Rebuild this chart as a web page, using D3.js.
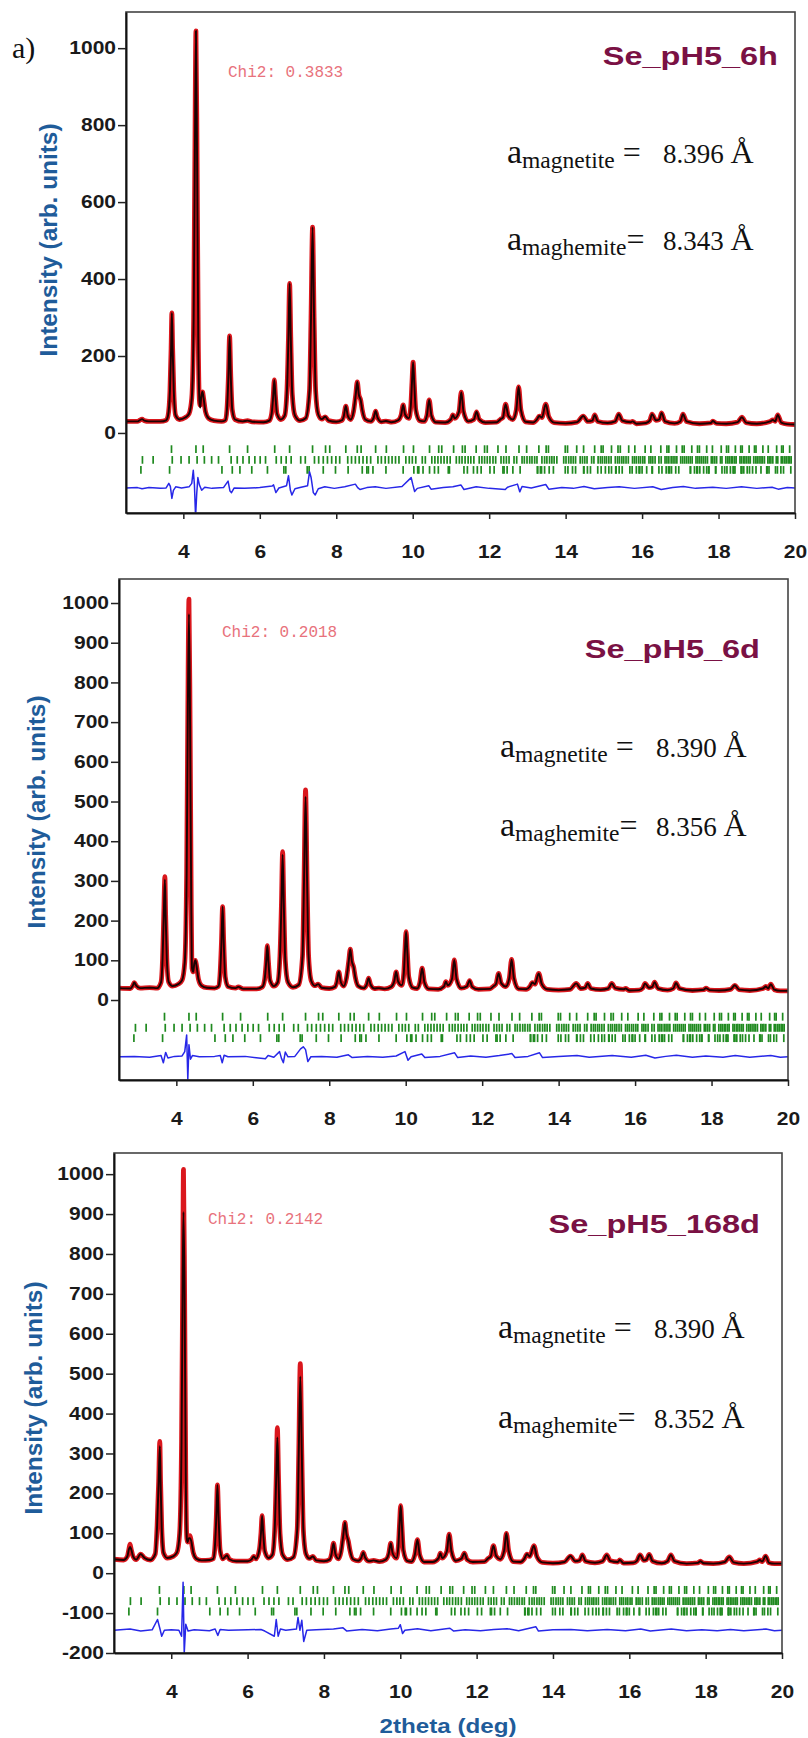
<!DOCTYPE html>
<html>
<head>
<meta charset="utf-8">
<script src="https://cdn.jsdelivr.net/npm/d3@7"></script>
<style>
  body { margin: 0; background: #fff; }
  svg { display: block; }
</style>
</head>
<body>
<svg id="fig" width="808" height="1738"></svg>
<script>
// ---------------------------------------------------------------
// Rietveld refinement plots of three Se_pH5 samples (synchrotron XRD)
// ---------------------------------------------------------------

const samples    = ["Se_pH5_6h", "Se_pH5_6d", "Se_pH5_168d"];
const chi2       = ["0.3833", "0.2018", "0.2142"];
const aMagnetite = ["8.396", "8.390", "8.390"];
const aMaghemite = ["8.343", "8.356", "8.352"];

const xDomain = [2.5, 20];
const xTicks = [4, 6, 8, 10, 12, 14, 16, 18, 20];
const yTicks6h   = [0, 200, 400, 600, 800, 1000];
const yTicks6d   = [0, 100, 200, 300, 400, 500, 600, 700, 800, 900, 1000];
const yTicks168d = [-200, -100, 0, 100, 200, 300, 400, 500, 600, 700, 800, 900, 1000];

// Observed intensity profiles: [2theta (deg), intensity]
const obs6h = [[2.50,30],[2.80,30],[2.86,33],[2.92,36],[2.98,32],[3.10,30],[3.40,30],[3.55,33],
  [3.60,45],[3.65,110],[3.68,220],[3.70,312],[3.72,220],[3.75,110],[3.80,45],[3.90,35],[4.05,40],[4.15,50],
  [4.22,90],[4.27,300],[4.30,700],[4.33,1045],[4.36,700],[4.39,250],[4.42,85],[4.44,72],
  [4.47,95],[4.50,107],[4.53,90],[4.58,55],[4.66,38],[4.80,32],[5.00,30],[5.10,33],
  [5.14,60],[5.18,150],[5.21,252],[5.24,150],[5.28,60],[5.35,35],[5.55,30],[5.68,32],[5.80,29],[6.10,28],[6.25,32],
  [6.31,50],[6.35,95],[6.38,138],[6.41,95],[6.45,50],[6.55,35],[6.65,45],
  [6.71,110],[6.75,250],[6.78,389],[6.81,250],[6.85,100],[6.92,45],[7.05,32],[7.20,38],
  [7.30,110],[7.34,300],[7.38,535],[7.42,300],[7.46,110],[7.53,48],[7.62,36],[7.71,42],[7.80,32],[8.00,29],[8.15,33],
  [8.20,45],[8.25,70],[8.30,45],[8.38,35],[8.45,55],
  [8.51,100],[8.55,133],[8.59,100],[8.64,85],[8.68,60],[8.76,35],[8.90,30],
  [8.98,40],[9.03,57],[9.08,40],[9.18,29],[9.30,31],[9.45,28],[9.62,33],
  [9.70,48],[9.75,73],[9.80,48],[9.90,38],
  [9.95,70],[9.98,130],[10.01,184],[10.04,130],[10.08,60],[10.18,32],[10.30,30],
  [10.37,45],[10.43,86],[10.49,45],[10.60,28],[10.85,27],[11.00,35],[11.05,47],[11.10,38],
  [11.21,55],[11.27,106],[11.33,55],[11.45,30],[11.60,35],[11.67,55],[11.74,35],[11.90,27],[12.20,28],[12.30,36],[12.36,40],
  [12.43,75],[12.50,45],[12.62,35],
  [12.71,60],[12.77,120],[12.83,60],[12.95,29],[13.15,27],[13.25,35],[13.31,44],[13.38,40],
  [13.48,75],[13.56,42],[13.70,27],[14.00,25],[14.30,28],[14.46,44],[14.58,30],[14.70,32],[14.76,47],[14.84,30],
  [15.10,26],[15.30,30],[15.39,49],[15.48,32],[15.70,28],[15.75,30],[15.85,24],[16.10,26],[16.20,32],[16.26,49],
  [16.36,33],[16.45,35],[16.51,52],[16.60,30],[16.85,25],[17.00,30],[17.07,49],[17.16,30],[17.50,24],[17.80,26],
  [17.85,31],[17.95,25],[18.20,24],[18.50,28],[18.61,41],[18.72,27],[19.00,24],[19.35,30],[19.42,34],[19.48,30],
  [19.55,47],[19.64,27],[19.80,23],[20.00,22]];

const obs6d = [[2.50,30],[2.80,29],[2.86,36],[2.90,44],[2.95,36],[3.05,30],[3.30,31],[3.50,30],
  [3.60,45],[3.64,105],[3.67,210],[3.70,311],[3.72,215],[3.75,105],[3.80,45],[3.90,35],[4.05,40],[4.15,50],
  [4.22,95],[4.27,320],[4.30,720],[4.33,1010],[4.36,690],[4.39,240],[4.41,80],[4.44,71],
  [4.47,92],[4.50,100],[4.53,85],[4.58,52],[4.66,36],[4.80,31],[5.00,30],[5.10,34],
  [5.14,60],[5.18,145],[5.21,235],[5.24,145],[5.28,58],[5.35,34],[5.55,30],[5.62,33],[5.75,28],[6.10,28],[6.25,33],
  [6.31,52],[6.35,95],[6.38,137],[6.41,95],[6.45,50],[6.55,35],[6.65,44],
  [6.71,110],[6.75,245],[6.78,374],[6.81,245],[6.85,100],[6.92,45],[7.05,32],[7.20,38],
  [7.30,110],[7.34,300],[7.38,529],[7.42,300],[7.46,110],[7.53,48],[7.62,36],[7.71,40],[7.80,31],[8.00,29],[8.15,33],
  [8.20,46],[8.25,71],[8.30,46],[8.38,35],[8.45,55],
  [8.51,98],[8.55,128],[8.59,98],[8.64,82],[8.68,58],[8.76,35],[8.90,30],
  [8.98,39],[9.03,55],[9.08,39],[9.18,29],[9.30,30],[9.45,28],[9.62,33],
  [9.70,47],[9.75,71],[9.80,47],[9.90,37],
  [9.95,68],[9.98,125],[10.01,172],[10.04,125],[10.08,58],[10.18,31],[10.30,29],
  [10.37,44],[10.43,80],[10.49,44],[10.60,28],[10.85,27],[11.00,34],[11.05,46],[11.10,37],
  [11.21,53],[11.27,101],[11.33,53],[11.45,30],[11.60,34],[11.67,49],[11.74,33],[11.90,27],[12.20,28],[12.30,35],[12.36,40],
  [12.43,67],[12.50,42],[12.62,34],
  [12.71,55],[12.77,102],[12.83,55],[12.95,28],[13.15,27],[13.25,34],[13.31,44],[13.38,40],
  [13.48,67],[13.56,40],[13.70,27],[14.00,25],[14.30,27],[14.46,42],[14.58,29],[14.70,31],[14.76,42],[14.84,29],
  [15.10,26],[15.30,29],[15.39,42],[15.48,30],[15.70,27],[15.75,29],[15.85,24],[16.10,25],[16.20,30],[16.26,42],
  [16.36,31],[16.45,33],[16.51,45],[16.60,29],[16.85,25],[17.00,29],[17.07,43],[17.16,29],[17.50,24],[17.80,26],
  [17.85,30],[17.95,25],[18.20,24],[18.50,27],[18.61,37],[18.72,26],[19.00,24],[19.35,29],[19.42,34],[19.48,29],
  [19.55,40],[19.64,26],[19.80,23],[20.00,23]];

const obs168d = [[2.50,35],[2.75,33],[2.85,42],[2.89,60],[2.92,73],[2.95,60],[3.00,42],[3.08,34],[3.20,48],[3.30,38],[3.45,33],
  [3.58,48],[3.63,120],[3.67,230],[3.70,330],[3.72,230],[3.75,115],[3.80,50],[3.90,38],[4.05,42],[4.15,52],
  [4.22,100],[4.27,330],[4.30,740],[4.32,1012],[4.35,700],[4.38,250],[4.41,85],[4.43,78],
  [4.46,88],[4.49,94],[4.52,82],[4.58,50],[4.66,36],[4.80,32],[5.00,33],[5.10,36],
  [5.14,62],[5.18,140],[5.21,221],[5.24,140],[5.28,58],[5.35,36],[5.40,40],[5.46,45],[5.52,35],[5.70,30],[6.00,30],[6.10,34],
  [6.16,42],[6.22,36],[6.31,60],[6.35,100],[6.38,144],[6.41,100],[6.45,55],[6.55,38],[6.65,46],
  [6.71,110],[6.75,240],[6.78,365],[6.81,240],[6.85,100],[6.92,46],[7.05,34],[7.20,40],
  [7.30,110],[7.34,300],[7.38,525],[7.42,300],[7.46,110],[7.53,48],[7.62,37],[7.71,42],[7.80,32],[8.00,30],[8.15,34],
  [8.20,48],[8.25,75],[8.30,48],[8.38,36],[8.45,55],
  [8.51,98],[8.55,127],[8.59,98],[8.64,80],[8.68,58],[8.76,35],[8.90,31],
  [8.98,39],[9.03,52],[9.08,39],[9.18,30],[9.30,32],[9.45,29],[9.62,34],
  [9.70,50],[9.75,75],[9.80,50],[9.90,38],
  [9.95,68],[9.98,123],[10.01,169],[10.04,123],[10.08,58],[10.18,31],[10.30,29],
  [10.38,46],[10.45,84],[10.51,46],[10.62,28],[10.85,28],[11.00,37],[11.05,50],[11.10,38],
  [11.22,55],[11.28,98],[11.34,55],[11.45,31],[11.60,36],[11.68,50],[11.75,34],[11.90,28],[12.20,29],[12.30,37],[12.37,42],
  [12.44,69],[12.51,43],[12.62,35],
  [12.72,56],[12.78,100],[12.84,56],[12.96,29],[13.15,28],[13.25,36],[13.32,48],[13.39,42],
  [13.50,69],[13.58,41],[13.72,27],[14.00,25],[14.30,28],[14.46,43],[14.58,30],[14.70,32],[14.77,46],[14.85,30],
  [15.10,26],[15.30,30],[15.41,46],[15.50,31],[15.70,28],[15.75,33],[15.85,25],[16.10,26],[16.20,31],[16.28,46],
  [16.38,32],[16.45,34],[16.52,47],[16.61,30],[16.85,25],[17.00,30],[17.09,46],[17.18,30],[17.50,24],[17.80,26],
  [17.86,30],[17.95,25],[18.20,24],[18.50,28],[18.62,41],[18.73,27],[19.00,24],[19.35,29],[19.42,33],[19.48,29],
  [19.57,43],[19.66,26],[19.80,24],[20.00,24]];

// Calculated profile: equal to the observed one except at these points
const calcTop6h   = [[4.44,66]];
const calcTop6d   = [[3.70,303],[4.33,972],[6.78,366],[7.38,512]];
const calcTop168d = [[2.92,66],[3.70,318],[4.32,905],[4.49,88],[6.78,340],[7.38,493]];

// Difference (Yobs - Ycalc): [2theta, residual]
const diff6h = [[2.50,0],[2.80,1],[2.92,-2],[3.10,1],[3.40,-1],[3.55,0],[3.62,12],[3.66,4],[3.70,-27],[3.74,-6],[3.80,3],
  [3.95,0],[4.15,3],[4.22,12],[4.26,46],[4.29,8],[4.32,-75],[4.35,-15],[4.38,27],[4.42,8],[4.48,-6],[4.56,2],[4.75,-1],
  [5.05,1],[5.17,18],[5.22,-8],[5.26,-12],[5.33,0],[5.60,-1],[6.00,1],[6.32,5],[6.36,8],[6.42,-12],[6.50,0],[6.70,6],
  [6.75,32],[6.80,-6],[6.84,-18],[6.92,-2],[7.05,1],[7.25,6],[7.30,42],[7.34,28],[7.40,-12],[7.45,-18],[7.53,-2],[7.70,3],
  [7.95,-1],[8.22,3],[8.50,10],[8.56,1],[8.62,-4],[8.80,1],[9.02,3],[9.30,-1],[9.72,4],[9.96,27],[10.00,10],[10.05,-9],
  [10.12,-1],[10.42,6],[10.48,-3],[10.80,1],[11.05,3],[11.26,8],[11.34,-4],[11.66,3],[12.00,-1],[12.42,-4],[12.48,2],
  [12.74,10],[12.80,-10],[12.86,4],[13.10,0],[13.48,9],[13.56,-3],[13.90,1],[14.20,-1],[14.48,4],[14.75,-2],[15.10,1],
  [15.40,3],[15.80,-1],[16.28,3],[16.50,-4],[16.80,1],[17.08,4],[17.40,-1],[17.85,2],[18.20,-1],[18.60,3],[19.00,-1],
  [19.40,2],[19.56,-3],[19.80,1],[20.00,0]];

const diff6d = [[2.50,0],[2.90,1],[3.30,-1],[3.60,3],[3.66,-15],[3.72,11],[3.78,-3],[3.95,1],[4.15,2],[4.22,13],[4.27,55],
  [4.30,-57],[4.33,30],[4.37,-6],[4.42,3],[4.60,0],[5.00,1],[5.15,3],[5.20,-15],[5.25,4],[5.35,0],[5.80,1],[6.33,-5],
  [6.40,3],[6.55,-1],[6.70,13],[6.75,-4],[6.80,-15],[6.85,12],[6.92,0],[7.10,1],[7.25,20],[7.32,25],[7.38,18],[7.44,-12],
  [7.52,0],[7.80,1],[8.20,-1],[8.50,5],[8.60,-2],[9.00,1],[9.40,-1],[9.75,2],[9.98,13],[10.06,-9],[10.14,0],[10.42,7],
  [10.50,-2],[10.90,1],[11.28,10],[11.36,-2],[11.70,2],[12.10,-1],[12.45,3],[12.78,8],[12.86,-2],[13.20,1],[13.50,10],
  [13.58,-2],[14.00,1],[14.48,3],[14.80,-1],[15.40,3],[15.90,-1],[16.28,4],[16.52,-3],[16.80,1],[17.08,4],[17.50,-1],
  [17.85,2],[18.30,-1],[18.62,3],[19.00,-1],[19.55,3],[19.80,-1],[20.00,0]];

const diff168d = [[2.50,0],[2.92,3],[3.20,-2],[3.50,1],[3.64,27],[3.70,5],[3.75,-15],[3.82,0],[4.00,1],[4.20,0],[4.27,-15],
  [4.31,120],[4.34,-58],[4.38,15],[4.44,-2],[4.60,1],[5.00,-1],[5.15,3],[5.22,-13],[5.28,2],[5.50,0],[6.00,1],[6.35,2],
  [6.45,-2],[6.70,-15],[6.75,27],[6.80,-15],[6.86,3],[7.00,0],[7.28,3],[7.32,32],[7.37,0],[7.42,25],[7.47,-28],[7.55,0],
  [7.80,1],[8.25,3],[8.50,6],[8.60,-2],[9.00,2],[9.40,-1],[9.75,3],[9.95,5],[10.00,14],[10.06,-8],[10.12,0],[10.45,4],
  [10.80,-1],[11.30,5],[11.40,-2],[11.70,1],[12.10,-1],[12.45,2],[12.80,4],[13.10,-1],[13.55,9],[13.62,-2],[14.00,1],
  [14.47,2],[14.90,-1],[15.42,2],[15.90,-1],[16.30,3],[16.55,-2],[17.10,3],[17.50,-1],[17.90,1],[18.30,-1],[18.65,2],
  [19.00,-1],[19.58,3],[19.80,-1],[20.00,0]];

const diffOffset = -143;

// Bragg reflection positions (2theta, deg) of the refined phases
const magnetiteRefl = [3.69,4.33,4.52,5.21,5.68,6.39,6.78,7.38,7.72,7.83,8.25,8.55,8.65,9.03,9.31,9.76,10.02,10.44,10.68,
  10.76,11.07,11.30,11.37,11.66,11.88,11.95,12.23,12.44,12.78,12.98,13.30,13.49,13.55,13.99,14.05,14.29,14.47,14.76,14.93,
  14.98,15.20,15.37,15.43,15.65,15.81,16.08,16.23,16.49,16.65,16.70,16.90,17.05,17.10,17.30,17.45,17.50,17.69,17.84,18.07,
  18.21,18.26,18.44,18.58,18.62,18.80,18.94,18.98,19.16,19.30,19.52,19.65,19.69,19.86];

const maghemiteRefl = [2.93,3.21,3.71,3.94,4.15,4.36,4.55,4.74,4.92,5.25,5.41,5.56,5.72,5.87,6.01,6.15,6.43,6.56,6.69,6.82,
  7.07,7.19,7.43,7.54,7.66,7.77,7.88,7.99,8.09,8.30,8.40,8.50,8.60,8.70,8.80,8.90,9.09,9.18,9.28,9.37,9.46,9.55,9.64,9.82,
  9.91,9.99,10.08,10.25,10.33,10.50,10.58,10.66,10.74,10.82,10.90,10.98,11.14,11.22,11.29,11.37,11.45,11.52,11.60,11.74,
  11.81,11.88,11.95,12.02,12.10,12.17,12.31,12.38,12.45,12.52,12.65,12.72,12.86,12.92,12.99,13.06,13.12,13.19,13.25,13.38,
  13.45,13.51,13.58,13.64,13.70,13.77,13.95,14.01,14.08,14.14,14.20,14.26,14.38,14.44,14.50,14.56,14.68,14.74,14.85,14.91,
  14.96,15.02,15.07,15.13,15.19,15.30,15.36,15.41,15.47,15.52,15.58,15.64,15.75,15.80,15.85,15.91,15.96,16.02,16.07,16.18,
  16.23,16.28,16.34,16.44,16.50,16.60,16.65,16.70,16.76,16.81,16.86,16.91,17.01,17.06,17.11,17.16,17.21,17.26,17.31,17.41,
  17.46,17.51,17.56,17.61,17.66,17.71,17.81,17.85,17.90,17.95,18.05,18.09,18.19,18.24,18.28,18.33,18.37,18.42,18.46,18.56,
  18.60,18.65,18.69,18.74,18.79,18.83,18.92,18.97,19.01,19.06,19.11,19.15,19.20,19.29,19.33,19.37,19.42,19.51,19.55,19.64,
  19.68,19.73,19.77,19.82,19.86,19.90];

const seleniumRefl = [2.89,3.64,5.01,5.28,5.48,5.79,6.20,6.63,6.68,7.24,7.29,7.66,7.98,8.31,8.68,8.80,8.84,8.96,9.30,9.75,
  10.03,10.13,10.16,10.27,10.44,10.57,10.67,10.93,10.96,11.34,11.43,11.59,11.69,11.79,12.02,12.13,12.36,12.39,12.47,12.62,
  12.81,13.26,13.27,13.34,13.37,13.45,13.57,13.68,13.99,14.06,14.18,14.26,14.47,14.48,14.57,14.65,14.84,14.93,15.04,15.13,
  15.20,15.31,15.32,15.40,15.48,15.68,15.74,15.85,15.92,15.94,16.00,16.12,16.26,16.27,16.44,16.52,16.63,16.69,16.72,16.77,
  16.88,16.96,17.26,17.27,17.37,17.43,17.45,17.51,17.61,17.69,17.74,17.75,17.92,17.93,18.09,18.16,18.22,18.31,18.38,18.40,
  18.43,18.59,18.60,18.61,18.66,18.75,18.81,18.89,18.98,19.11,19.26,19.27,19.32,19.49,19.54,19.63,19.70,19.89];

// ---------------------------------------------------------------
const SANS  = "'Liberation Sans', Arial, Helvetica, sans-serif";
const SERIF = "'Liberation Serif', 'Times New Roman', serif";
const MONO  = "'Liberation Mono', 'Courier New', monospace";
const BLUE_TITLE = "#1f5c9a";

const svg = d3.select("#fig");

// widen a text element horizontally by factor k
function stretch(sel, k) {
  sel.each(function () {
    const w = this.getComputedTextLength();
    d3.select(this).attr("textLength", w * k).attr("lengthAdjust", "spacingAndGlyphs");
  });
}

const panels = [
  { name: samples[0], chi: chi2[0], aMt: aMagnetite[0], aMh: aMaghemite[0],
    obs: obs6h, calcTop: calcTop6h, diff: diff6h, yTicks: yTicks6h,
    box: { l: 126, r: 795, t: 12, b: 513 }, yDom: [-208, 1094],
    yTitle: [57, 240], title: [778, 65], chiPos: [228, 77], ann: [507, 163, 250] },
  { name: samples[1], chi: chi2[1], aMt: aMagnetite[1], aMh: aMaghemite[1],
    obs: obs6d, calcTop: calcTop6d, diff: diff6d, yTicks: yTicks6d,
    box: { l: 119, r: 788, t: 579, b: 1080 }, yDom: [-201.5, 1060.5],
    yTitle: [45, 812], title: [760, 658], chiPos: [222, 637], ann: [500, 757, 836] },
  { name: samples[2], chi: chi2[2], aMt: aMagnetite[2], aMh: aMaghemite[2],
    obs: obs168d, calcTop: calcTop168d, diff: diff168d, yTicks: yTicks168d,
    box: { l: 114, r: 782, t: 1153, b: 1653 }, yDom: [-200, 1053],
    yTitle: [42, 1398], title: [760, 1233], chiPos: [208, 1224], ann: [498, 1338, 1428] }
];

const phases = [magnetiteRefl, maghemiteRefl, seleniumRefl];
const rowCenter = [-42, -70, -96];

panels.forEach((p, i) => {
  const g = svg.append("g");
  const x = d3.scaleLinear().domain(xDomain).range([p.box.l, p.box.r]);
  const y = d3.scaleLinear().domain(p.yDom).range([p.box.b, p.box.t]);

  const clipId = "plotClip" + i;
  svg.append("clipPath").attr("id", clipId).append("rect")
    .attr("x", p.box.l).attr("y", p.box.t)
    .attr("width", p.box.r - p.box.l).attr("height", p.box.b - p.box.t);
  const plot = g.append("g").attr("clip-path", `url(#${clipId})`);

  // Bragg position markers, one row per phase
  phases.forEach((refl, k) => {
    plot.append("g").selectAll("line").data(refl).join("line")
      .attr("x1", d => x(d)).attr("x2", d => x(d))
      .attr("y1", y(rowCenter[k] + 10)).attr("y2", y(rowCenter[k] - 10))
      .attr("stroke", "#1f8a1f").attr("stroke-width", 1.7);
  });

  // difference curve
  plot.append("path").datum(p.diff)
    .attr("d", d3.line().x(d => x(d[0])).y(d => y(diffOffset + d[1])))
    .attr("fill", "none").attr("stroke", "#2727e8").attr("stroke-width", 1.5)
    .attr("stroke-linejoin", "round");

  const profile = d3.line().x(d => x(d[0])).y(d => y(d[1])).curve(d3.curveMonotoneX);

  // observed
  plot.append("path").datum(p.obs)
    .attr("d", profile)
    .attr("fill", "none").attr("stroke", "#da171d").attr("stroke-width", 4.8)
    .attr("stroke-linejoin", "round").attr("stroke-linecap", "round");

  // calculated
  const top = new Map(p.calcTop);
  const calc = p.obs.map(([a, b]) => [a, top.has(a) ? top.get(a) : b]);
  plot.append("path").datum(calc)
    .attr("d", profile)
    .attr("fill", "none").attr("stroke", "#1c0202").attr("stroke-width", 1.9)
    .attr("stroke-linejoin", "round");

  // frame
  g.append("rect")
    .attr("x", p.box.l).attr("y", p.box.t)
    .attr("width", p.box.r - p.box.l).attr("height", p.box.b - p.box.t)
    .attr("fill", "none").attr("stroke", "#444").attr("stroke-width", 1.6);

  // axes
  const xa = g.append("g").attr("transform", `translate(0,${p.box.b})`)
    .call(d3.axisBottom(x).tickValues(xTicks).tickSize(6).tickSizeOuter(0)
      .tickPadding(27).tickFormat(d => String(d)));
  const ya = g.append("g").attr("transform", `translate(${p.box.l},0)`)
    .call(d3.axisLeft(y).tickValues(p.yTicks).tickSize(8).tickSizeOuter(0)
      .tickPadding(2).tickFormat(d => String(d)));
  [xa, ya].forEach(a => {
    a.select(".domain").attr("stroke", "#111").attr("stroke-width", 2);
    a.selectAll(".tick line").attr("stroke", "#222").attr("stroke-width", 1.5);
    const t = a.selectAll(".tick text")
      .attr("font-family", SANS).attr("font-weight", "bold")
      .attr("font-size", 17.5).attr("fill", "#1a1a1a");
    stretch(t, 1.2);
  });

  // y-axis title
  g.append("text")
    .attr("transform", `translate(${p.yTitle[0]},${p.yTitle[1]}) rotate(-90)`)
    .attr("text-anchor", "middle")
    .attr("font-family", SANS).attr("font-weight", "bold").attr("font-size", 23)
    .attr("fill", BLUE_TITLE)
    .attr("textLength", 233).attr("lengthAdjust", "spacingAndGlyphs")
    .text("Intensity (arb. units)");

  // sample name
  const ttl = g.append("text")
    .attr("x", p.title[0]).attr("y", p.title[1]).attr("text-anchor", "end")
    .attr("font-family", SANS).attr("font-weight", "bold").attr("font-size", 25)
    .attr("fill", "#7a1144").text(p.name);
  stretch(ttl, 1.3);

  // goodness of fit
  g.append("text")
    .attr("x", p.chiPos[0]).attr("y", p.chiPos[1])
    .attr("font-family", MONO).attr("font-size", 16).attr("fill", "#e8727c")
    .text("Chi2: " + p.chi);

  // lattice parameters
  const [ax, y1, y2] = p.ann;
  const lattice = (yb, sub, eq, val) => {
    const t = g.append("text").attr("x", ax).attr("y", yb)
      .attr("font-family", SERIF).attr("fill", "#111");
    t.append("tspan").attr("font-size", 34).text("a");
    t.append("tspan").attr("font-size", 23.5).attr("dy", 5).text(sub);
    t.append("tspan").attr("font-size", 32).attr("dy", -5).text(eq);
    const v = g.append("text").attr("x", ax + 156).attr("y", yb)
      .attr("font-family", SERIF).attr("fill", "#111");
    v.append("tspan").attr("font-size", 27).text(val + " ");
    v.append("tspan").attr("font-size", 32).text("Å");
  };
  lattice(y1, "magnetite", " =", p.aMt);
  lattice(y2, "maghemite", "=", p.aMh);

  // x-axis title on the bottom panel only
  if (i === panels.length - 1) {
    g.append("text")
      .attr("x", 448).attr("y", 1733).attr("text-anchor", "middle")
      .attr("font-family", SANS).attr("font-weight", "bold").attr("font-size", 20)
      .attr("fill", BLUE_TITLE)
      .attr("textLength", 137).attr("lengthAdjust", "spacingAndGlyphs")
      .text("2theta (deg)");
  }
});

// figure part label
svg.append("text").attr("x", 12).attr("y", 58)
  .attr("font-family", SERIF).attr("font-size", 30).attr("fill", "#111")
  .text("a)");
</script>
</body>
</html>
